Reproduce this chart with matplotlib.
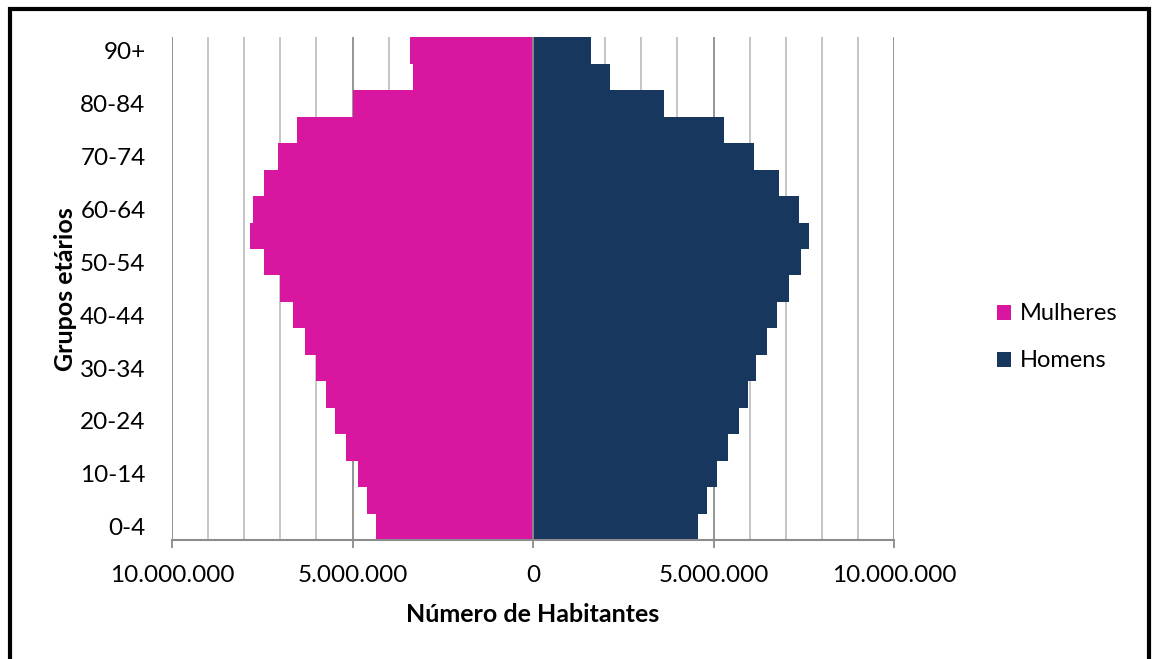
import numpy as np
import matplotlib.pyplot as plt
from matplotlib.patches import Rectangle
from matplotlib.ticker import FuncFormatter, MultipleLocator

plt.rcParams['font.family'] = ['Lato', 'DejaVu Sans']

# age groups, bottom to top
age_groups = ["0-4", "5-9", "10-14", "15-19", "20-24", "25-29", "30-34", "35-39",
              "40-44", "45-49", "50-54", "55-59", "60-64", "65-69", "70-74",
              "75-79", "80-84", "85-89", "90+"]

# population in millions
mulheres = [4.36, 4.59, 4.86, 5.17, 5.48, 5.74, 6.00, 6.31, 6.64, 7.02,
            7.44, 7.84, 7.77, 7.45, 7.06, 6.54, 4.99, 3.32, 3.41]
homens = [4.57, 4.82, 5.11, 5.41, 5.71, 5.95, 6.19, 6.47, 6.77, 7.08,
          7.42, 7.65, 7.36, 6.81, 6.13, 5.28, 3.64, 2.12, 1.60]

mulheres = np.array(mulheres) * 1e6
homens = np.array(homens) * 1e6
y = np.arange(len(age_groups))

pink = "#D816A0"
navy = "#17375E"
grid_light = "#C0C0C0"
grid_dark = "#8C8C8C"

fig = plt.figure(figsize=(11.52, 6.59), dpi=100)
ax = fig.add_axes([172 / 1152, 119 / 659, 722 / 1152, 502.7 / 659])

bf = ax.barh(y, -mulheres, height=1.0, color=pink, label="Mulheres", zorder=2)
bm = ax.barh(y, homens, height=1.0, color=navy, label="Homens", zorder=2)

ax.set_xlim(-10e6, 10e6)
ax.set_ylim(-0.5, len(age_groups) - 0.5)

# gridlines: every 1M light, every 5M darker
ax.xaxis.set_major_locator(MultipleLocator(5e6))
ax.xaxis.set_minor_locator(MultipleLocator(1e6))
ax.grid(axis="x", which="minor", color=grid_light, lw=1.3, zorder=0)
ax.grid(axis="x", which="major", color=grid_dark, lw=1.3, zorder=0)
ax.axvline(0, color=grid_dark, lw=1.3, zorder=3)

ax.xaxis.set_major_formatter(FuncFormatter(lambda v, p: f"{abs(int(round(v))):,}".replace(",", ".")))
ax.tick_params(axis="x", which="major", length=6, width=1.3, color=grid_dark,
               labelsize=17.5, pad=12)
ax.tick_params(axis="x", which="minor", length=0)

ax.set_yticks(y[::2])
ax.set_yticklabels(age_groups[::2])
ax.tick_params(axis="y", length=0, labelsize=17.5, pad=19)

for side in ["top", "right", "left"]:
    ax.spines[side].set_visible(False)
ax.spines["bottom"].set_color(grid_dark)
ax.spines["bottom"].set_linewidth(1.5)
ax.spines["bottom"].set_zorder(4)

ax.set_xlabel("Número de Habitantes", fontsize=18, fontweight="bold", labelpad=12)
ax.set_ylabel("Grupos etários", fontsize=18, fontweight="bold", labelpad=2)

fig.legend(handles=[bf, bm], loc="center left", bbox_to_anchor=(976 / 1152, 0.488),
           frameon=False, fontsize=17, handlelength=0.6, handleheight=0.6,
           handletextpad=0.35, labelspacing=1.1)

# outer black border of the picture
fig.patches.append(Rectangle((10 / 1152, -0.05), 1139 / 1152, 1.0356,
                             transform=fig.transFigure, fill=False,
                             edgecolor="black", lw=3))

fig.savefig("out.png", dpi=100)
